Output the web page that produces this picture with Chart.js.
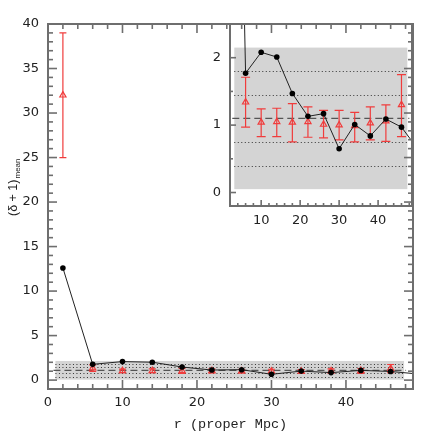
<!DOCTYPE html>
<html>
<head>
<meta charset="utf-8">
<script src="https://cdn.jsdelivr.net/npm/chart.js@4"></script>
<style>
   html, body { margin: 0; padding: 0; background: #fff; }
   #wrap { position: relative; width: 436px; height: 436px; }
   #inset { position: absolute; left: 200px; top: 0; z-index: 0; }
   #main { position: absolute; left: 0; top: 0; z-index: 1; }
</style>
</head>
<body>
<div id="wrap">
   <canvas id="inset" width="236" height="236"></canvas>
   <canvas id="main" width="436" height="436"></canvas>
</div>
<script>
// radial bins (proper Mpc) and measured mean overdensity
const rBins = [2, 6, 10, 14, 18, 22, 26, 30, 34, 38, 42, 46, 50];
const meanOverdensity = [12.6, 1.77, 2.08, 2.01, 1.47, 1.13, 1.17, 0.65, 1.01, 0.84, 1.09, 0.97, 0.66];

// random-position comparison (red triangles) with error bars
const randomR = [2, 6, 10, 14, 18, 22, 26, 30, 34, 38, 42, 46];
const randomMean = [32.0, 1.34, 1.04, 1.05, 1.04, 1.05, 1.01, 1.00, 0.99, 1.03, 1.06, 1.30];
const randomLow = [25.0, 0.97, 0.83, 0.83, 0.75, 0.82, 0.81, 0.78, 0.75, 0.78, 0.76, 0.83];
const randomHigh = [39.0, 1.71, 1.24, 1.25, 1.32, 1.27, 1.22, 1.22, 1.19, 1.27, 1.30, 1.75];

// field level: mean, sigma lines, shaded band
const fieldMean = 1.1;
const fieldSigmaLines = [0.40, 0.75, 1.45, 1.80];
const fieldBand = [0.05, 2.15];

// tick labels
const mainXTicks = [0, 10, 20, 30, 40];
const mainYTicks = [0, 5, 10, 15, 20, 25, 30, 35, 40];
const insetXTicks = [10, 20, 30, 40];
const insetYTicks = [0, 1, 2];

const RED = '#f03c3c';
const AXIS = '#6e6e6e';
const TICK_FONT = { family: "'DejaVu Sans', sans-serif", size: 13 };

function range(a, b, step) {
   const out = [];
   for (let v = a; v <= b + 1e-9; v += step) out.push(+v.toFixed(3));
   return out;
}

// frame + inward ticks
function framePlugin(cfg) {
   return {
      id: 'frame',
      afterDraw(chart) {
         const { ctx, chartArea: a } = chart;
         const xs = chart.scales.x, ys = chart.scales.y;
         ctx.save();
         ctx.strokeStyle = AXIS;
         ctx.lineWidth = 1.6;
         const tick = (x1, y1, x2, y2) => { ctx.beginPath(); ctx.moveTo(x1, y1); ctx.lineTo(x2, y2); ctx.stroke(); };
         cfg.sides.forEach(side => {
            const list = [].concat(side.major.map(v => [v, cfg.majorLen]), side.minor.map(v => [v, cfg.minorLen]));
            list.forEach(([v, len]) => {
               if (side.at === 'left' || side.at === 'right') {
                  const p = ys.getPixelForValue(v);
                  if (p < a.top || p > a.bottom) return;
                  if (side.at === 'left') tick(a.left, p, a.left + len, p);
                  else tick(a.right, p, a.right - len, p);
               } else {
                  const p = xs.getPixelForValue(v);
                  if (p < a.left || p > a.right) return;
                  if (side.at === 'bottom') tick(p, a.bottom, p, a.bottom - len);
                  else tick(p, a.top, p, a.top + len);
               }
            });
         });
         ctx.lineWidth = 2;
         ctx.strokeRect(a.left, a.top, a.right - a.left, a.bottom - a.top);
         ctx.restore();
      }
   };
}

// shaded field band with sigma lines
function bandPlugin(xFrom, xTo) {
   return {
      id: 'band',
      beforeDatasetsDraw(chart) {
         const { ctx, chartArea: a } = chart;
         const xs = chart.scales.x, ys = chart.scales.y;
         const x1 = xs.getPixelForValue(xFrom), x2 = xs.getPixelForValue(xTo);
         ctx.save();
         ctx.beginPath();
         ctx.rect(a.left, a.top, a.right - a.left, a.bottom - a.top);
         ctx.clip();
         ctx.fillStyle = '#d4d4d4';
         const yt = ys.getPixelForValue(fieldBand[1]), yb = ys.getPixelForValue(fieldBand[0]);
         ctx.fillRect(x1, yt, x2 - x1, yb - yt);
         ctx.strokeStyle = '#333';
         ctx.lineWidth = 1;
         ctx.setLineDash([1, 2.5]);
         fieldSigmaLines.forEach(v => {
            const y = Math.round(ys.getPixelForValue(v)) + 0.5;
            ctx.beginPath(); ctx.moveTo(x1, y); ctx.lineTo(x2, y); ctx.stroke();
         });
         ctx.strokeStyle = '#555';
         ctx.lineWidth = 1.2;
         ctx.setLineDash([7, 4]);
         const ym = ys.getPixelForValue(fieldMean);
         ctx.beginPath(); ctx.moveTo(x1 - 2, ym); ctx.lineTo(x2 + 2, ym); ctx.stroke();
         ctx.restore();
      }
   };
}

// vertical error bars with caps for the red series
function errorBarPlugin(cap) {
   return {
      id: 'errbars',
      beforeDatasetsDraw(chart) {
         const { ctx, chartArea: a } = chart;
         const xs = chart.scales.x, ys = chart.scales.y;
         ctx.save();
         ctx.beginPath();
         ctx.rect(a.left, a.top, a.right - a.left, a.bottom - a.top);
         ctx.clip();
         ctx.strokeStyle = RED;
         ctx.lineWidth = 1.2;
         randomR.forEach((r, i) => {
            const x = xs.getPixelForValue(r);
            const y1 = ys.getPixelForValue(randomLow[i]), y2 = ys.getPixelForValue(randomHigh[i]);
            ctx.beginPath();
            ctx.moveTo(x, y1); ctx.lineTo(x, y2);
            ctx.moveTo(x - cap, y1); ctx.lineTo(x + cap, y1);
            ctx.moveTo(x - cap, y2); ctx.lineTo(x + cap, y2);
            ctx.stroke();
         });
         ctx.restore();
      }
   };
}

const yTitlePlugin = {
   id: 'ytitle',
   afterDraw(chart) {
      const ctx = chart.ctx;
      ctx.save();
      ctx.translate(17, 216);
      ctx.rotate(-Math.PI / 2);
      ctx.fillStyle = '#222';
      ctx.textBaseline = 'alphabetic';
      ctx.font = "12.5px 'Liberation Sans', sans-serif";
      const main = '(\u03b4 + 1)';
      ctx.fillText(main, 0, 0);
      const w = ctx.measureText(main).width;
      ctx.font = "8px 'Liberation Sans', sans-serif";
      ctx.fillText('mean', w + 1, 2.5);
      ctx.restore();
   }
};

const whiteArea = {
   id: 'whiteArea',
   beforeDraw(chart) {
      const { ctx, chartArea: a } = chart;
      ctx.save();
      ctx.fillStyle = '#fff';
      ctx.fillRect(a.left, a.top, a.right - a.left, a.bottom - a.top);
      ctx.restore();
   }
};

function datasets(dotR, triR) {
   return [
      {
         label: 'mean',
         data: rBins.map((r, i) => ({ x: r, y: meanOverdensity[i] })),
         showLine: true,
         borderColor: '#222',
         borderWidth: 1,
         backgroundColor: '#000',
         pointRadius: dotR,
         pointBorderWidth: 0,
         order: 0
      },
      {
         label: 'random',
         data: randomR.map((r, i) => ({ x: r, y: randomMean[i] })),
         showLine: false,
         pointStyle: 'triangle',
         pointRadius: triR,
         borderColor: RED,
         borderWidth: 1.2,
         backgroundColor: 'rgba(0,0,0,0)',
         order: 1
      }
   ];
}

function ticksFrom(list) {
   return s => { s.ticks = list.map(v => ({ value: v })); };
}

const noGrid = { display: false, drawTicks: false };

const insetChart = new Chart(document.getElementById('inset'), {
   type: 'scatter',
   data: { datasets: datasets(2.8, 3.6) },
   options: {
      responsive: false,
      animation: false,
      events: [],
      layout: { padding: { top: 24, right: 24, left: 0, bottom: 0 } },
      plugins: { legend: { display: false }, tooltip: { enabled: false } },
      scales: {
         x: {
            type: 'linear', min: 2, max: 48.7,
            grid: noGrid, border: { display: false },
            afterBuildTicks: ticksFrom(insetXTicks),
            afterFit: s => { s.height = 30; },
            ticks: { font: TICK_FONT, color: '#222', padding: 7, maxRotation: 0, autoSkip: false }
         },
         y: {
            type: 'linear', min: -0.2, max: 2.5,
            grid: noGrid, border: { display: false },
            afterBuildTicks: ticksFrom(insetYTicks),
            afterFit: s => { s.width = 30; },
            ticks: { font: TICK_FONT, color: '#222', padding: 9 }
         }
      }
   },
   plugins: [whiteArea, bandPlugin(3.1, 47.5), errorBarPlugin(4.5), framePlugin({
      majorLen: 6, minorLen: 3,
      sides: [
         { at: 'left', major: insetYTicks, minor: [0.5, 1.5] },
         { at: 'bottom', major: insetXTicks, minor: range(4, 48, 2).filter(v => v % 10 !== 0) }
      ]
   })]
});

const mainChart = new Chart(document.getElementById('main'), {
   type: 'scatter',
   data: { datasets: datasets(2.8, 3.6) },
   options: {
      responsive: false,
      animation: false,
      events: [],
      layout: { padding: { top: 24, right: 23, left: 0, bottom: 0 } },
      plugins: { legend: { display: false }, tooltip: { enabled: false } },
      scales: {
         x: {
            type: 'linear', min: 0, max: 49,
            grid: noGrid, border: { display: false },
            afterBuildTicks: ticksFrom(mainXTicks),
            afterFit: s => { s.height = 47; },
            ticks: { font: TICK_FONT, color: '#222', padding: 6, maxRotation: 0, autoSkip: false },
            title: {
               display: true, text: 'r (proper Mpc)', color: '#222',
               font: { family: "'Liberation Mono', monospace", size: 13.5 },
               padding: { top: 0, bottom: 3 }
            }
         },
         y: {
            type: 'linear', min: -1, max: 40,
            grid: noGrid, border: { display: false },
            afterBuildTicks: ticksFrom(mainYTicks),
            afterFit: s => { s.width = 48; },
            ticks: { font: TICK_FONT, color: '#222', padding: 9 }
         }
      }
   },
   plugins: [bandPlugin(1.0, 47.8), errorBarPlugin(3.5), yTitlePlugin, framePlugin({
      majorLen: 9, minorLen: 5,
      sides: [
         { at: 'left', major: mainYTicks, minor: range(1, 39, 1).filter(v => v % 5 !== 0) },
         { at: 'right', major: mainYTicks, minor: range(1, 39, 1).filter(v => v % 5 !== 0) },
         { at: 'bottom', major: mainXTicks, minor: range(2, 48, 2).filter(v => v % 10 !== 0) },
         { at: 'top', major: mainXTicks, minor: range(2, 48, 2).filter(v => v % 10 !== 0) }
      ]
   })]
});
</script>
</body>
</html>
